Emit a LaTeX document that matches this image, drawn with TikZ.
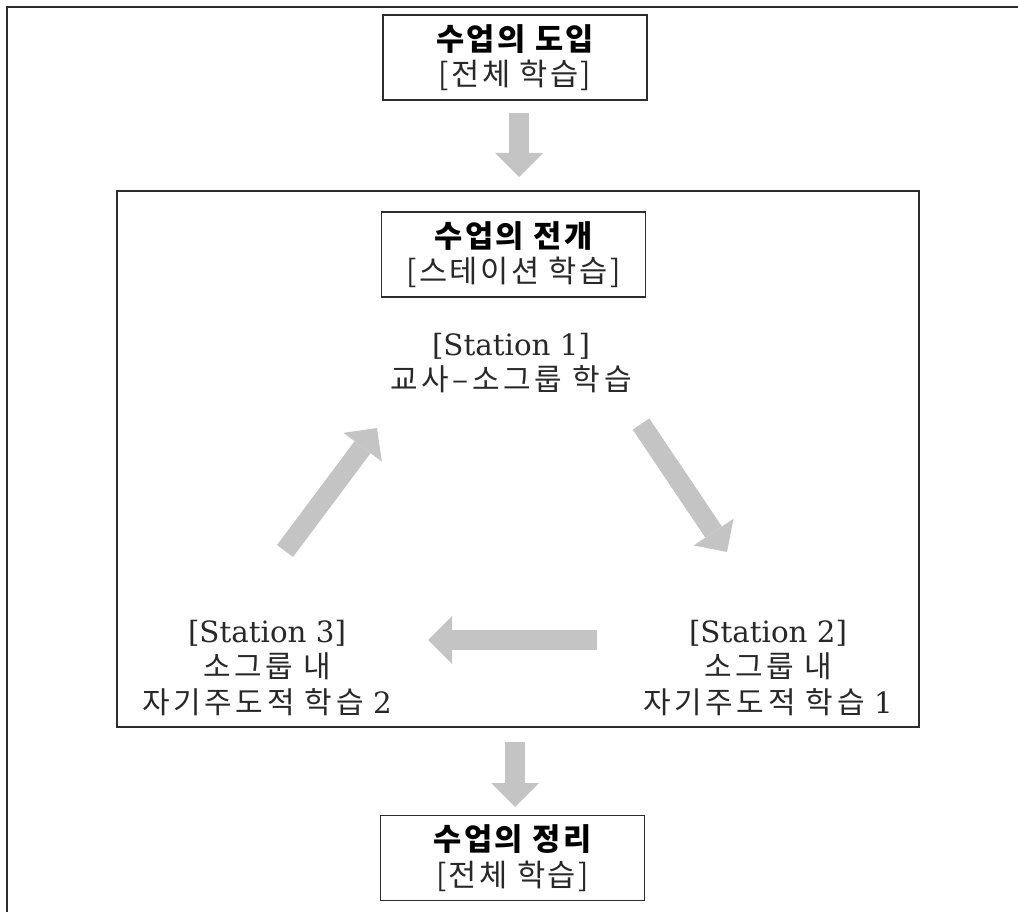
\documentclass[tikz,border=0pt]{standalone}
\usepackage{fontspec}
\newfontfamily\kr{Noto Sans CJK KR}[LetterSpace=8]
\newfontfamily\krw{Noto Sans CJK KR}[LetterSpace=12]
\newfontfamily\latserif{DejaVu Serif}
\usetikzlibrary{arrows.meta}
\definecolor{arrowgray}{RGB}{196,196,196}
\definecolor{framegray}{RGB}{45,45,45}
\definecolor{textgray}{RGB}{40,40,40}
\tikzset{
  stagebox/.style={draw=framegray, line width=1.1pt, minimum width=198pt, minimum height=63.75pt,
    align=center, inner sep=0pt, font=\kr\fontsize{23}{26.5}\selectfont},
  stationtext/.style={align=center, inner sep=0pt, text=textgray, font=\latserif\fontsize{22}{26.5}\selectfont},
  bigarrow/.style={draw=arrowgray, line width=15pt,
    -{Triangle[width=36pt,length=18pt,line width=0pt]}},
}
\begin{document}
\begin{tikzpicture}[x=0.75pt,y=-0.75pt]
\useasboundingbox (0,0) rectangle (1018,912);
% outer frame (top and left edges)
\draw[framegray, line width=1.4pt] (1018,7) -- (7,7) -- (7,912);
% stage frame
\draw[framegray, line width=1.1pt] (117,191) rectangle (919,727);
% boxes
\node[stagebox] (intro) at (515,57.5) {{\bfseries 수업의 도입}\\{\color{textgray}[전체 학습]}};
\node[stagebox] (main) at (513.5,254.5) {{\bfseries 수업의 전개}\\{\color{textgray}[스테이션 학습]}};
\node[stagebox] (wrap) at (512.5,858) {{\bfseries 수업의 정리}\\{\color{textgray}[전체 학습]}};
% stations
\node[stationtext] (s1) at (511,363) {{[Station 1]}\\{\krw\fontsize{22.5}{26}\selectfont 교사–소그룹 학습}};
\node[stationtext] (s2) at (768,668) {{[Station 2]}\\{\krw\fontsize{22.5}{26}\selectfont 소그룹 내}\\{{\krw\fontsize{22.5}{26}\selectfont 자기주도적 학습} 1}};
\node[stationtext] (s3) at (267,668) {{[Station 3]}\\{\krw\fontsize{22.5}{26}\selectfont 소그룹 내}\\{{\krw\fontsize{22.5}{26}\selectfont 자기주도적 학습} 2}};
% arrow end points
\coordinate (a1s) at (519,113); \coordinate (a1e) at (519,177);
\coordinate (a2s) at (641,424); \coordinate (a2e) at (727,552);
\coordinate (a3s) at (597,640); \coordinate (a3e) at (428,640);
\coordinate (a4s) at (285,551); \coordinate (a4e) at (377,428);
\coordinate (a5s) at (515,742); \coordinate (a5e) at (515,807);
\draw[bigarrow] (a1s) -- (a1e);
\draw[bigarrow] (a2s) -- (a2e);
\draw[bigarrow] (a3s) -- (a3e);
\draw[bigarrow] (a4s) -- (a4e);
\draw[bigarrow] (a5s) -- (a5e);
\end{tikzpicture}
\end{document}
